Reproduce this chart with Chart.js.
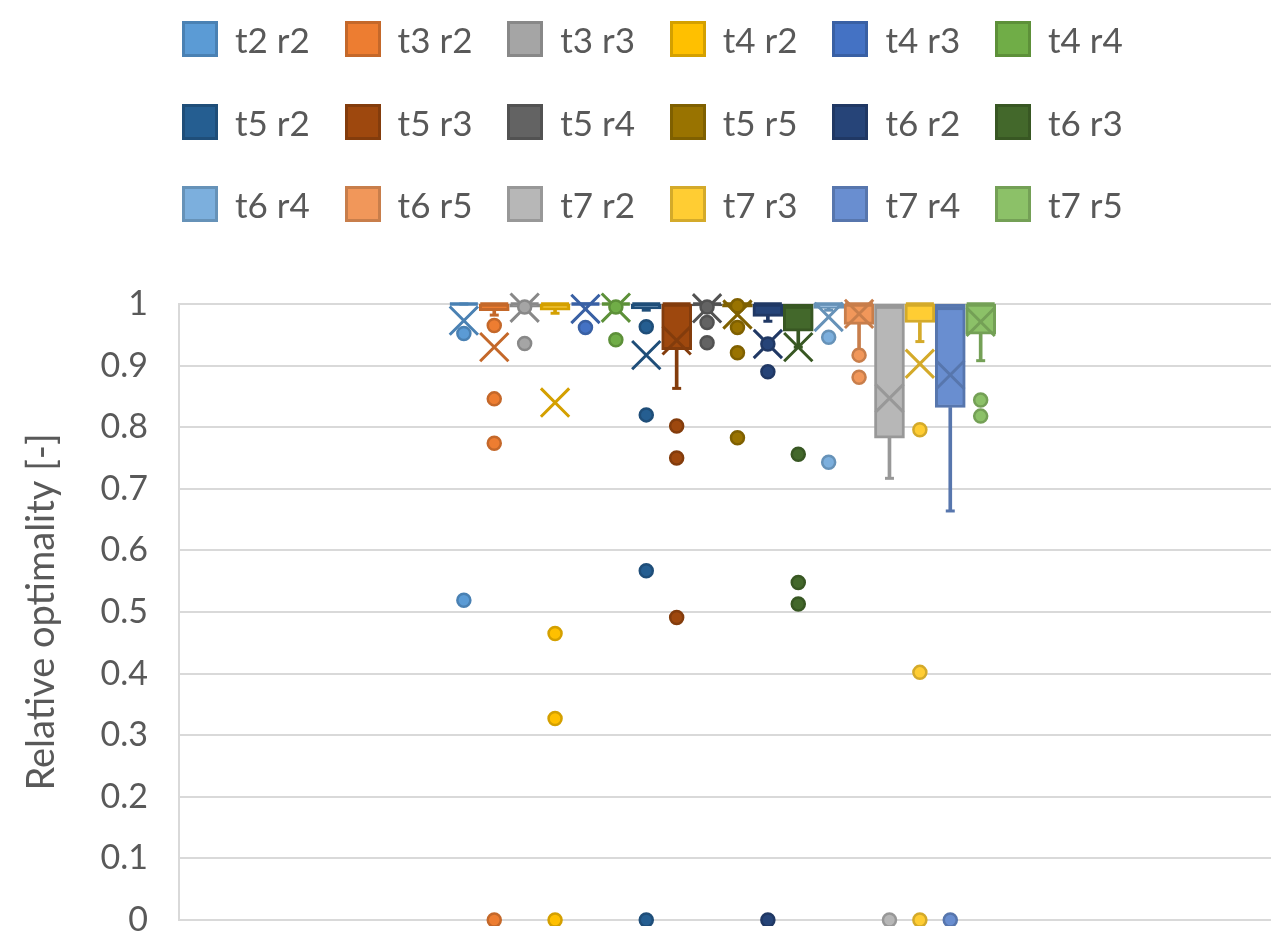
<!DOCTYPE html>
<html>
<head>
<meta charset="utf-8">
<title>Relative optimality</title>
<script src="https://cdn.jsdelivr.net/npm/chart.js@4"></script>
<style>
    body { margin: 0; background: #fff; }
    #wrap { position: relative; width: 1279px; height: 948px; }
    #boxChart { display: block; }
    #legend {
        position: absolute; left: 182px; top: 21px;
        display: grid; grid-template-columns: repeat(6, 162.6px); grid-auto-rows: 82.5px;
        font-family: "Lato", sans-serif; font-size: 35px; color: #595959;
    }
    .item { display: flex; align-items: center; height: 36px; line-height: 36px; white-space: nowrap; }
    .sw { width: 36px; height: 36px; box-sizing: border-box; border: 3px solid; margin-right: 17px; }
</style>
</head>
<body>
<div id="wrap">
    <canvas id="boxChart" width="1279" height="948"></canvas>
    <div id="legend"></div>
</div>
<script>
const seriesNames = ['t2 r2', 't3 r2', 't3 r3', 't4 r2', 't4 r3', 't4 r4',
    't5 r2', 't5 r3', 't5 r4', 't5 r5', 't6 r2', 't6 r3',
    't6 r4', 't6 r5', 't7 r2', 't7 r3', 't7 r4', 't7 r5'];

// box: lower quartile / upper quartile / median
const q1 = [1, 0.989, 0.995, 0.99, 1, 1, 0.992, 0.926, 0.997, 0.995, 0.98, 0.956, 0.993, 0.967, 0.782, 0.97, 0.832, 0.951];
const q3 = [1, 1, 1, 1, 1, 1, 1, 1, 1, 1, 1, 1, 1, 1, 1, 1, 1, 1];
const medians = [1, 1, 1, 1, 1, 1, 1, 1, 1, 1, 1, 0.995, 1, 1, 0.995, 1, 0.993, 1];
// lower whisker end
const whiskerLow = [1, 0.982, 0.99, 0.985, 1, 1, 0.99, 0.863, 0.99, 0.99, 0.972, 0.93, 0.99, 0.925, 0.717, 0.939, 0.664, 0.908];
const means = [0.973, 0.93, 0.994, 0.84, 0.992, 0.994, 0.917, 0.941, 0.993, 0.983, 0.935, 0.93, 0.979, 0.984, 0.847, 0.903, 0.885, 0.971];
const outliers = [
    [0.952, 0.519],
    [0.965, 0.846, 0.774, 0],
    [0.995, 0.936],
    [0.465, 0.327, 0],
    [0.962],
    [0.995, 0.942],
    [0.963, 0.82, 0.567, 0],
    [0.802, 0.75, 0.491],
    [0.995, 0.97, 0.937],
    [0.997, 0.962, 0.921, 0.783],
    [0.935, 0.89, 0],
    [0.756, 0.548, 0.513],
    [0.946, 0.743],
    [0.917, 0.881],
    [0],
    [0.796, 0.402, 0],
    [0],
    [0.844, 0.818]
];

const fills = ['#5B9BD5', '#ED7D31', '#A5A5A5', '#FFC000', '#4472C4', '#70AD47',
    '#255E91', '#9E480E', '#636363', '#997300', '#264478', '#43682B',
    '#7CAFDD', '#F1975A', '#B7B7B7', '#FFCD33', '#698ED0', '#8CC168'];
const lines = ['#4A81B3', '#C4682A', '#888888', '#D4A000', '#3960A4', '#5D9039',
    '#1F4E79', '#833C0C', '#525252', '#7F6000', '#203864', '#385723',
    '#6692B8', '#C87E4B', '#989898', '#D4AA2A', '#5776AD', '#74A056'];

const xs = seriesNames.map(function (_, i) { return i + 1; });

let outlierPoints = [];
outliers.forEach(function (vals, i) {
    vals.forEach(function (v) { outlierPoints.push({x: i + 1, y: v}); });
});

function pick(arr) {
    return function (c) { return c.raw ? arr[c.raw.x - 1] : arr[0]; };
}

Chart.defaults.font.family = 'Lato';
Chart.defaults.color = '#595959';

const ctx = document.getElementById('boxChart').getContext('2d');
const boxChart = new Chart(ctx, {
    type: 'bar',
    data: {
        datasets: [{
            label: 'whiskers',
            data: xs.map(function (x, i) { return {x: x, y: [whiskerLow[i], q1[i]]}; }),
            backgroundColor: lines,
            barThickness: 3,
            grouped: false,
            order: 6
        }, {
            label: 'boxes',
            data: xs.map(function (x, i) { return {x: x, y: [q1[i], q3[i]]}; }),
            backgroundColor: fills,
            borderColor: lines,
            borderWidth: 3,
            borderSkipped: false,
            barThickness: 30,
            grouped: false,
            order: 5
        }, {
            type: 'scatter',
            label: 'medians',
            data: xs.map(function (x, i) { return {x: x, y: medians[i]}; }),
            pointStyle: 'line',
            pointRadius: 14,
            pointBorderWidth: 3.5,
            pointBorderColor: lines,
            clip: false,
            order: 4
        }, {
            type: 'scatter',
            label: 'caps',
            data: xs.map(function (x, i) { return {x: x, y: whiskerLow[i]}; }),
            pointStyle: 'line',
            pointRadius: 4.5,
            pointBorderWidth: 3,
            pointBorderColor: lines,
            clip: false,
            order: 3
        }, {
            type: 'scatter',
            label: 'means',
            data: xs.map(function (x, i) { return {x: x, y: means[i]}; }),
            pointStyle: 'crossRot',
            pointRadius: 20,
            pointBorderWidth: 3,
            pointBorderColor: lines,
            clip: false,
            order: 2
        }, {
            type: 'scatter',
            label: 'outliers',
            data: outlierPoints,
            pointStyle: 'circle',
            pointRadius: 6.5,
            pointBorderWidth: 2.5,
            pointBackgroundColor: pick(fills),
            pointBorderColor: pick(lines),
            clip: {left: false, top: false, right: false, bottom: 6},
            order: 1
        }]
    },
    options: {
        responsive: false,
        devicePixelRatio: 1,
        animation: false,
        events: [],
        layout: { autoPadding: false, padding: { top: 304, right: 8, bottom: 28, left: 0 } },
        plugins: {
            legend: { display: false },
            tooltip: { enabled: false }
        },
        scales: {
            x: {
                type: 'linear',
                min: -8.37,
                max: 27.55,
                offset: false,
                display: false
            },
            y: {
                min: 0,
                max: 1,
                afterFit: function (scale) { scale.width = 179; },
                ticks: {
                    stepSize: 0.1,
                    padding: 1,
                    color: '#595959',
                    font: { size: 34 },
                    callback: function (v) { return String(Math.round(v * 10) / 10); }
                },
                grid: {
                    color: '#D9D9D9',
                    lineWidth: 2,
                    drawTicks: true,
                    tickLength: 30,
                    tickColor: 'rgba(0,0,0,0)'
                },
                border: { display: true, color: '#D9D9D9', width: 2 },
                title: {
                    display: true,
                    text: 'Relative optimality [-]',
                    color: '#595959',
                    font: { size: 38 },
                    padding: { top: 19, bottom: 0 }
                }
            }
        }
    }
});

// legend built from the series list
const legendBox = document.getElementById('legend');
seriesNames.forEach(function (name, i) {
    let item = document.createElement('div');
    item.className = 'item';
    let sw = document.createElement('span');
    sw.className = 'sw';
    sw.style.background = fills[i];
    sw.style.borderColor = lines[i];
    let txt = document.createElement('span');
    txt.textContent = name;
    item.appendChild(sw);
    item.appendChild(txt);
    legendBox.appendChild(item);
});
</script>
</body>
</html>
